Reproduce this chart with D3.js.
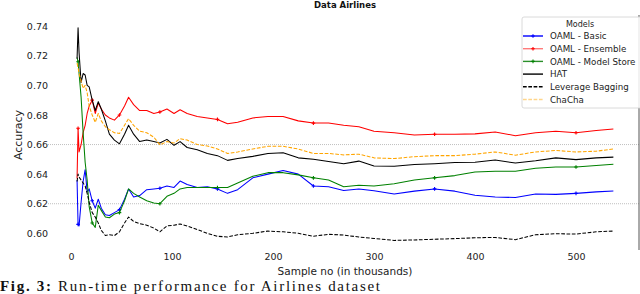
<!DOCTYPE html>
<html>
<head>
<meta charset="utf-8">
<script src="https://cdn.jsdelivr.net/npm/d3@7"></script>
<style>
    body { margin: 0; background: #fff; }
    svg { display: block; font-family: "DejaVu Sans", sans-serif; }
</style>
</head>
<body>
<svg id="chart" width="640" height="294"></svg>
<script>
// Sample positions (thousands) and accuracy per model
const sampleX = [6, 7, 8, 10, 12, 14, 16, 18, 21, 24, 27, 30, 34, 38, 43, 48, 53, 57, 62, 68,
    75, 82, 88, 95, 102, 108, 115, 125, 135, 145, 155, 165, 180, 195, 210, 225, 240, 255, 270, 285,
    300, 320, 340, 360, 380, 400, 420, 440, 460, 480, 500, 520, 537];

const basicAcc = [0.636, 0.606, 0.605, 0.621, 0.635, 0.643, 0.628, 0.630, 0.622, 0.617, 0.623, 0.617, 0.6125, 0.612, 0.614, 0.616, 0.623, 0.630, 0.6245, 0.6255,
    0.6295, 0.630, 0.6305, 0.632, 0.631, 0.6353, 0.633, 0.631, 0.6315, 0.630, 0.627, 0.6295, 0.6375, 0.640, 0.6425, 0.640, 0.632, 0.6315, 0.629, 0.630,
    0.6288, 0.6265, 0.6285, 0.630, 0.6285, 0.6257, 0.6245, 0.6242, 0.6265, 0.6263, 0.627, 0.628, 0.6286];

const ensembleAcc = [0.637, 0.671, 0.655, 0.660, 0.668, 0.673, 0.681, 0.686, 0.690, 0.681, 0.688, 0.684, 0.680, 0.678, 0.6765, 0.680, 0.686, 0.692, 0.687, 0.683,
    0.683, 0.681, 0.682, 0.684, 0.681, 0.6835, 0.681, 0.679, 0.678, 0.677, 0.674, 0.675, 0.678, 0.679, 0.679, 0.676, 0.6745, 0.6745, 0.673, 0.672,
    0.669, 0.668, 0.6665, 0.667, 0.667, 0.6672, 0.6685, 0.666, 0.668, 0.669, 0.668, 0.6695, 0.6705];

const modelStoreAcc = [0.719, 0.716, 0.708, 0.692, 0.668, 0.648, 0.636, 0.618, 0.607, 0.604, 0.619, 0.6155, 0.611, 0.6105, 0.613, 0.614, 0.622, 0.630, 0.627, 0.6245,
    0.622, 0.6205, 0.620, 0.625, 0.627, 0.630, 0.631, 0.631, 0.631, 0.631, 0.631, 0.634, 0.6385, 0.641, 0.641, 0.6395, 0.6375, 0.636, 0.6315, 0.6325,
    0.632, 0.6335, 0.636, 0.6375, 0.639, 0.6415, 0.642, 0.642, 0.644, 0.6448, 0.6448, 0.6458, 0.6467];

const hatAcc = [0.718, 0.739, 0.722, 0.702, 0.708, 0.707, 0.700, 0.699, 0.690, 0.683, 0.689, 0.684, 0.676, 0.667, 0.663, 0.6605, 0.667, 0.673, 0.667, 0.662,
    0.663, 0.662, 0.661, 0.6635, 0.6595, 0.662, 0.658, 0.6565, 0.654, 0.6525, 0.6493, 0.6505, 0.652, 0.654, 0.6545, 0.651, 0.650, 0.6485, 0.647, 0.6488,
    0.6455, 0.6453, 0.6465, 0.647, 0.6478, 0.648, 0.6495, 0.6475, 0.649, 0.651, 0.6498, 0.651, 0.6515];

const levBagAcc = [0.635, 0.640, 0.638, 0.636, 0.634, 0.632, 0.627, 0.621, 0.614, 0.611, 0.607, 0.602, 0.5985, 0.599, 0.5985, 0.601, 0.607, 0.611, 0.608, 0.6065,
    0.6055, 0.6035, 0.601, 0.605, 0.6055, 0.6063, 0.605, 0.6025, 0.600, 0.598, 0.5975, 0.599, 0.600, 0.6015, 0.601, 0.600, 0.598, 0.5993, 0.5988, 0.5975,
    0.5965, 0.5952, 0.5955, 0.596, 0.5964, 0.597, 0.5972, 0.5957, 0.599, 0.5997, 0.5995, 0.601, 0.6015];

const chachaAcc = [0.715, 0.712, 0.708, 0.703, 0.698, 0.700, 0.695, 0.686, 0.680, 0.675, 0.681, 0.676, 0.672, 0.670, 0.668, 0.6675, 0.673, 0.6775, 0.673, 0.669,
    0.668, 0.665, 0.6598, 0.662, 0.661, 0.664, 0.663, 0.660, 0.659, 0.657, 0.654, 0.655, 0.657, 0.6588, 0.6588, 0.657, 0.654, 0.654, 0.653, 0.6535,
    0.651, 0.6505, 0.6518, 0.6525, 0.6525, 0.6535, 0.655, 0.6528, 0.655, 0.656, 0.655, 0.6555, 0.657];

const xTicks = [0, 100, 200, 300, 400, 500];
const yTicks = [0.60, 0.62, 0.64, 0.66, 0.68, 0.70, 0.72, 0.74];
const gridTicks = [0.62, 0.66];

const models = [
    { name: "OAML - Basic", values: basicAcc, color: "#0000ff", legendColor: "#0000ff", dash: null, marker: true },
    { name: "OAML - Ensemble", values: ensembleAcc, color: "#ff0000", legendColor: "#ff7b7b", dash: null, marker: true },
    { name: "OAML - Model Store", values: modelStoreAcc, color: "#008000", legendColor: "#2a8f2a", dash: null, marker: true },
    { name: "HAT", values: hatAcc, color: "#000000", legendColor: "#000000", dash: null, marker: false },
    { name: "Leverage Bagging", values: levBagAcc, color: "#000000", legendColor: "#000000", dash: "3.7,1.6", marker: false },
    { name: "ChaCha", values: chachaAcc, color: "#ffa500", legendColor: "#ffd58a", dash: "3.7,1.6", marker: false }
];

const svg = d3.select("#chart");

const plot = { left: 48, right: 639, top: 15, bottom: 250 };

const x = d3.scaleLinear().domain([0, 500]).range([71, 576]);
const y = d3.scaleLinear().domain([0.60, 0.74]).range([233.3, 26.2]);

// Grid lines (only the two visible in the figure)
svg.append("g")
    .selectAll("line")
    .data(gridTicks)
    .join("line")
    .attr("x1", plot.left)
    .attr("x2", plot.right)
    .attr("y1", d => y(d))
    .attr("y2", d => y(d))
    .attr("stroke", "#b0b0b0")
    .attr("stroke-width", 0.8)
    .attr("stroke-dasharray", "1,1");

// Right spine
svg.append("line")
    .attr("x1", plot.right).attr("x2", plot.right)
    .attr("y1", plot.top).attr("y2", plot.bottom)
    .attr("stroke", "#555")
    .attr("stroke-width", 1);

// Axes without tick marks or domain lines
const yAxis = svg.append("g")
    .attr("transform", "translate(51,0)")
    .call(d3.axisLeft(y).tickValues(yTicks).tickFormat(d3.format(".2f")).tickSize(0).tickPadding(3));
yAxis.select(".domain").remove();
yAxis.selectAll("text").attr("font-size", 9.5).attr("fill", "#222").attr("font-family", "DejaVu Sans");

const xAxis = svg.append("g")
    .attr("transform", "translate(0,249)")
    .call(d3.axisBottom(x).tickValues(xTicks).tickFormat(d3.format("d")).tickSize(0).tickPadding(4));
xAxis.select(".domain").remove();
xAxis.selectAll("text").attr("font-size", 9.5).attr("fill", "#222").attr("font-family", "DejaVu Sans");

// Lines
const line = d3.line()
    .x((d, i) => x(sampleX[i]))
    .y(d => y(d));

const plus = "M-1.8,0H1.8M0,-1.8V1.8";

models.forEach(m => {
    svg.append("path")
        .datum(m.values)
        .attr("fill", "none")
        .attr("stroke", m.color)
        .attr("stroke-width", 1.05)
        .attr("stroke-linejoin", "round")
        .attr("stroke-dasharray", m.dash)
        .attr("d", line);

    if (m.marker) {
        svg.append("g")
            .selectAll("path")
            .data(m.values.map((v, i) => [sampleX[i], v]).filter((d, i) => i % 7 === 1))
            .join("path")
            .attr("transform", d => `translate(${x(d[0])},${y(d[1])})`)
            .attr("d", plus)
            .attr("stroke", m.color)
            .attr("stroke-width", 1.1);
    }
});

// Title
svg.append("text")
    .attr("x", 345)
    .attr("y", 8)
    .attr("text-anchor", "middle")
    .attr("font-size", 8.5)
    .attr("font-weight", "bold")
    .attr("fill", "#111")
    .text("Data Airlines");

// Axis labels
svg.append("text")
    .attr("transform", "translate(22,135) rotate(-90)")
    .attr("text-anchor", "middle")
    .attr("font-size", 11)
    .attr("fill", "#222")
    .text("Accuracy");

svg.append("text")
    .attr("x", 345)
    .attr("y", 275)
    .attr("text-anchor", "middle")
    .attr("font-size", 10.5)
    .attr("fill", "#222")
    .text("Sample no (in thousands)");

// Legend
const legend = svg.append("g");
legend.append("rect")
    .attr("x", 522)
    .attr("y", 17)
    .attr("width", 130)
    .attr("height", 91)
    .attr("rx", 2)
    .attr("fill", "#fff")
    .attr("fill-opacity", 0.85)
    .attr("stroke", "#d0d0d0")
    .attr("stroke-width", 0.8);

legend.append("text")
    .attr("x", 580)
    .attr("y", 27)
    .attr("text-anchor", "middle")
    .attr("font-size", 8)
    .attr("fill", "#222")
    .text("Models");

const rows = legend.selectAll("g.row")
    .data(models)
    .join("g")
    .attr("class", "row")
    .attr("transform", (d, i) => `translate(0,${36 + i * 12.7})`);

rows.append("line")
    .attr("x1", 523)
    .attr("x2", 543)
    .attr("stroke", d => d.legendColor)
    .attr("stroke-width", 1.4)
    .attr("stroke-dasharray", d => d.dash);

rows.filter(d => d.marker)
    .append("path")
    .attr("transform", "translate(533,0)")
    .attr("d", plus)
    .attr("stroke", d => d.color)
    .attr("stroke-width", 1.1);

rows.append("text")
    .attr("x", 550)
    .attr("y", 3.2)
    .attr("font-size", 8.7)
    .attr("fill", "#222")
    .text(d => d.name);

// Caption sits at the very bottom edge like the source
const caption = svg.append("text")
    .attr("x", 0)
    .attr("y", 291)
    .attr("font-family", "Liberation Serif, serif")
    .attr("font-size", 15)
    .attr("textLength", 380)
    .attr("lengthAdjust", "spacing")
    .attr("fill", "#111");
caption.append("tspan").attr("font-weight", "bold").text("Fig. 3:");
caption.append("tspan").text(" Run-time performance for Airlines dataset");
</script>
</body>
</html>
